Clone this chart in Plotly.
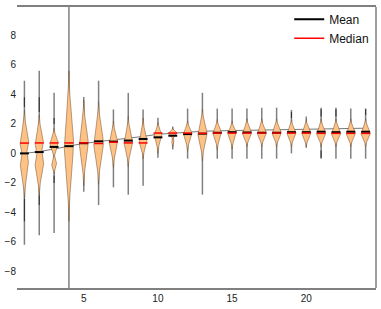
import plotly.graph_objects as go

# ---- data ----
positions = list(range(1, 25))
whisker_low = [-6.2, -5.55, -5.4, -9.6, -2.6, -3.5, -2.3, -2.8, -2.2, -0.3, 0.27, -0.36,
               -2.8, -0.36, -0.36, -0.36, -0.36, -0.36, 0.0, 0.38, -0.36, -0.36, -0.36, -0.36]
whisker_high = [4.93, 5.6, 4.11, 10.5, 3.82, 4.93, 2.98, 4.1, 2.98, 2.42, 1.82, 3.04,
                4.11, 3.04, 3.04, 3.04, 3.1, 3.1, 2.95, 2.5, 3.1, 3.1, 3.05, 3.05]
medians = [0.7, 0.71, 0.71, 0.71, 0.71, 0.67, 0.76, 0.71, 0.71, 1.38, 1.38, 1.38,
           1.36, 1.38, 1.38, 1.38, 1.38, 1.38, 1.38, 1.38, 1.36, 1.36, 1.36, 1.36]
means = [0.0, 0.09, 0.44, 0.49, 0.69, 0.82, 0.8, 0.87, 0.98, 1.09, 1.2, 1.31,
         1.34, 1.4, 1.44, 1.42, 1.4, 1.4, 1.44, 1.44, 1.47, 1.44, 1.47, 1.47]
trend = [0.0, 0.12, 0.3, 0.5, 0.68, 0.8, 0.9, 1.0, 1.15, 1.3, 1.38, 1.45,
         1.5, 1.53, 1.55, 1.57, 1.58, 1.6, 1.62, 1.64, 1.65, 1.67, 1.69, 1.71]

# density bumps forming each bean: position, centre, half width, low end, high end
bump_pos = [1, 1, 2, 2, 3, 3, 4, 5, 6, 7, 8, 9, 10, 11, 11, 12, 13, 14, 15,
            16, 17, 18, 19, 20, 21, 22, 23, 24]
bump_center = [0.7, -0.7, 0.71, -0.7, 0.7, -0.73, 0.6, 0.71, 0.7, 0.78, 0.75, 0.8, 1.3,
               1.4, 0.85, 1.38, 1.35, 1.38, 1.38, 1.38, 1.38, 1.38, 1.38, 1.38, 1.36,
               1.36, 1.36, 1.36]
bump_width = [0.31, 0.30, 0.30, 0.30, 0.30, 0.19, 0.34, 0.32, 0.35, 0.30, 0.30, 0.28, 0.27,
              0.28, 0.10, 0.30, 0.33, 0.31, 0.31, 0.33, 0.33, 0.33, 0.32, 0.32, 0.33,
              0.33, 0.33, 0.33]
bump_low = [-1.0, -3.07, -1.0, -2.84, -0.4, -1.4, -4.6, -2.2, -2.1, -0.95, -0.9, -0.35, 0.0,
            0.9, 0.45, 0.15, -0.5, 0.25, 0.3, 0.45, 0.45, 0.45, 0.45, 0.45, 0.45,
            0.45, 0.45, 0.45]
bump_high = [2.93, 1.3, 2.6, 1.3, 1.71, 0.0, 5.6, 3.6, 3.5, 2.2, 2.5, 2.4, 2.1,
             1.7, 1.1, 2.2, 3.0, 2.3, 2.2, 2.35, 2.35, 2.35, 2.3, 2.3, 2.35,
             2.35, 2.35, 2.35]

# individual observations drawn on the whiskers
tail_pos = [1, 1, 2, 2, 3, 3, 19, 21, 21, 22, 24]
tail_low = [3.15, -4.6, 2.8, -3.5, 2.0, -2.0, 2.4, 2.5, -0.3, 2.5, 2.6]
tail_high = [3.8, -3.1, 3.8, -2.85, 2.4, -1.5, 2.8, 3.0, 0.2, 3.0, 3.0]

# ---- build geometry ----
def half_width(p, y):
    w = 0.0
    for bp, c, bw, lo, hi in zip(bump_pos, bump_center, bump_width, bump_low, bump_high):
        if bp != p or y <= lo or y >= hi:
            continue
        t = (c - y) / (c - lo) if y < c else (y - c) / (hi - c)
        w = max(w, bw * (1 - t) ** 1.5)
    return w

bx, by = [], []
for p in positions:
    lows = [lo for bp, lo in zip(bump_pos, bump_low) if bp == p]
    highs = [hi for bp, hi in zip(bump_pos, bump_high) if bp == p]
    y0, y1 = min(lows), max(highs)
    n = 120
    ys = [y0 + (y1 - y0) * i / n for i in range(n + 1)]
    ws = [half_width(p, y) for y in ys]
    bx += [p + w for w in ws] + [p - w for w in reversed(ws)] + [None]
    by += ys + list(reversed(ys)) + [None]

wx, wy = [], []
for p, lo, hi in zip(positions, whisker_low, whisker_high):
    wx += [p, p, None]
    wy += [lo, hi, None]

tx, ty = [], []
for p, lo, hi in zip(tail_pos, tail_low, tail_high):
    tx += [p, p, None]
    ty += [lo, hi, None]

def segs(vals, hw):
    xs, ys = [], []
    for p, v in zip(positions, vals):
        xs += [p - hw, p + hw, None]
        ys += [v, v, None]
    return xs, ys

mx, my = segs(means, 0.3)
dx, dy = segs(medians, 0.3)

fig = go.Figure()
fig.add_trace(go.Scatter(x=wx, y=wy, mode="lines", line=dict(color="#808080", width=1.5),
                         showlegend=False, hoverinfo="skip"))
fig.add_trace(go.Scatter(x=positions, y=trend, mode="lines", line=dict(color="#555555", width=0.8),
                         showlegend=False, hoverinfo="skip"))
fig.add_trace(go.Scatter(x=tx, y=ty, mode="lines", line=dict(color="#333333", width=1.1),
                         showlegend=False, hoverinfo="skip"))
fig.add_trace(go.Scatter(x=bx, y=by, mode="lines", fill="toself", fillcolor="#FFC285",
                         line=dict(color="rgba(110,75,45,0.85)", width=0.6),
                         showlegend=False, hoverinfo="skip"))
fig.add_trace(go.Scatter(x=mx, y=my, mode="lines", line=dict(color="black", width=2),
                         name="Mean"))
fig.add_trace(go.Scatter(x=dx, y=dy, mode="lines", line=dict(color="red", width=1.5),
                         name="Median"))

fig.update_layout(
    width=381, height=309,
    margin=dict(l=13, r=5, t=5, b=18),
    paper_bgcolor="white", plot_bgcolor="white",
    font=dict(family="Liberation Sans, Arial, sans-serif", size=10, color="#222222"),
    showlegend=True,
    legend=dict(x=0.995, y=1.008, xanchor="right", yanchor="top", bgcolor="rgba(0,0,0,0)",
                font=dict(size=12, color="#111111"), itemwidth=30, tracegroupgap=0),
    xaxis=dict(range=[0.5, 24.7], tickvals=[5, 10, 15, 20], showgrid=False, zeroline=False,
               showline=True, mirror=True, linecolor="#808080", linewidth=1.5, ticks=""),
    yaxis=dict(range=[-9.13, 9.93], tickvals=[-8, -6, -4, -2, 0, 2, 4, 6, 8], showgrid=False,
               zeroline=False, showline=False, ticks=""),
    shapes=[dict(type="line", xref="paper", yref="paper", x0=1, x1=1, y0=0, y1=1,
                 line=dict(color="#808080", width=1.5))],
)

fig.write_html("out.html", config={"displayModeBar": False},
               post_script="document.body.style.margin='0';")
